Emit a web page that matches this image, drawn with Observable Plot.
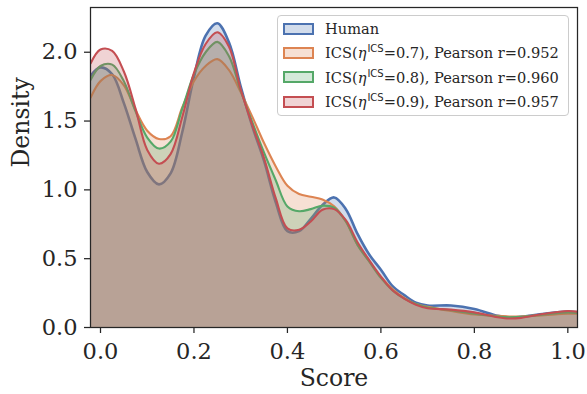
<!DOCTYPE html>
<html><head><meta charset="utf-8">
<script src="https://cdn.jsdelivr.net/npm/d3@7"></script>
<script src="https://cdn.jsdelivr.net/npm/@observablehq/plot@0.6"></script>
<style>
body{margin:0;background:#fff;}
#wrap{position:relative;width:587px;height:394px;font-family:"DejaVu Serif",serif;color:#262626;}
#legend{position:absolute;left:277px;top:15px;width:292px;height:101px;border:1px solid #cccccc;border-radius:4px;background:rgba(255,255,255,0.8);box-sizing:border-box;}
.row{position:absolute;left:0;height:20px;display:flex;align-items:center;font-size:14.6px;white-space:nowrap;}
.patch{width:27px;height:8px;margin-left:5px;margin-right:11px;border-width:2px;border-style:solid;}
sup{font-family:"DejaVu Sans",sans-serif;font-size:10px;vertical-align:0;position:relative;top:-6px;margin-left:1px;}
.eta{font-style:italic;}
</style></head><body><div id="wrap"></div>
<script>
const xs     = [-0.021, 0, 0.025, 0.05, 0.075, 0.1, 0.125, 0.15, 0.175, 0.2, 0.225, 0.25, 0.275, 0.3, 0.325, 0.35, 0.375, 0.4, 0.425, 0.45, 0.475, 0.5, 0.525, 0.55, 0.575, 0.6, 0.625, 0.65, 0.675, 0.7, 0.75, 0.8, 0.85, 0.875, 0.9, 0.95, 1.0, 1.021];
const human  = [1.83, 1.89, 1.84, 1.63, 1.37, 1.13, 1.04, 1.12, 1.42, 1.82, 2.12, 2.21, 2.07, 1.75, 1.46, 1.21, 0.91, 0.70, 0.70, 0.79, 0.89, 0.945, 0.86, 0.68, 0.53, 0.42, 0.30, 0.235, 0.18, 0.16, 0.16, 0.135, 0.085, 0.073, 0.078, 0.10, 0.115, 0.11];
const ics07  = [1.67, 1.79, 1.835, 1.76, 1.58, 1.43, 1.37, 1.39, 1.60, 1.79, 1.90, 1.95, 1.87, 1.71, 1.53, 1.34, 1.17, 1.03, 0.97, 0.95, 0.93, 0.88, 0.77, 0.60, 0.48, 0.37, 0.28, 0.215, 0.17, 0.15, 0.12, 0.095, 0.085, 0.08, 0.08, 0.09, 0.10, 0.10];
const ics08  = [1.80, 1.90, 1.91, 1.79, 1.57, 1.38, 1.30, 1.35, 1.59, 1.84, 2.00, 2.075, 1.97, 1.72, 1.49, 1.27, 1.07, 0.88, 0.845, 0.86, 0.885, 0.87, 0.77, 0.60, 0.48, 0.36, 0.27, 0.21, 0.17, 0.145, 0.125, 0.10, 0.08, 0.075, 0.078, 0.095, 0.11, 0.105];
const ics09  = [1.92, 2.02, 2.01, 1.86, 1.59, 1.29, 1.19, 1.26, 1.53, 1.85, 2.06, 2.145, 2.04, 1.73, 1.47, 1.23, 0.94, 0.72, 0.71, 0.77, 0.855, 0.86, 0.78, 0.62, 0.49, 0.37, 0.27, 0.21, 0.165, 0.14, 0.13, 0.11, 0.075, 0.065, 0.07, 0.10, 0.12, 0.115];
const seriesNames = ["Human", "ICS 0.7", "ICS 0.8", "ICS 0.9"];
const etas = [null, "0.7", "0.8", "0.9"];
const pearson = [null, "0.952", "0.960", "0.957"];
const colors = ["#4C72B0", "#DD8452", "#55A868", "#C44E52"];
const xTicks = [0, 0.2, 0.4, 0.6, 0.8, 1.0];
const yTicks = [0, 0.5, 1.0, 1.5, 2.0];

const allSeries = [human, ics07, ics08, ics09];
const rows = [];
allSeries.forEach((s, i) => xs.forEach((x, j) => rows.push({series: seriesNames[i], x, y: s[j]})));

const marks = [];
seriesNames.forEach((n, i) => {
  const d = rows.filter(r => r.series === n);
  marks.push(Plot.areaY(d, {x: "x", y: "y", fill: colors[i], fillOpacity: 0.25, curve: "catmull-rom", clip: true}));
  marks.push(Plot.lineY(d, {x: "x", y: "y", stroke: colors[i], strokeWidth: i === 0 ? 2.6 : 2.1, curve: "catmull-rom", clip: true}));
});

const chart = Plot.plot({
  width: 587, height: 394,
  marginLeft: 90, marginRight: 10, marginTop: 7, marginBottom: 67,
  style: {fontFamily: "DejaVu Serif", fontSize: "22px", color: "#262626", background: "#fff", overflow: "visible"},
  x: {domain: [-0.0214, 1.0207]},
  y: {domain: [0, 2.325]},
  marks: [
    ...marks,
    Plot.frame({stroke: "#262626", strokeWidth: 1.25}),
    Plot.axisX({ticks: xTicks, tickFormat: d3.format(".1f"), tickSize: 6, tickPadding: 10, label: null, fontSize: 22.5, strokeWidth: 1.25}),
    Plot.axisY({ticks: yTicks, tickFormat: d3.format(".1f"), tickSize: 6, tickPadding: 7, label: null, fontSize: 22.5, strokeWidth: 1.25}),
    Plot.text(["Score"], {text: d => d, frameAnchor: "bottom", dy: 58, fontSize: 23.5, fill: "#262626"}),
    Plot.text(["Density"], {text: d => d, frameAnchor: "left", dx: -69, rotate: -90, fontSize: 23.5, fill: "#262626"})
  ]
});
const wrap = document.getElementById("wrap");
wrap.appendChild(chart);

const legend = document.createElement("div");
legend.id = "legend";
seriesNames.forEach((n, i) => {
  const row = document.createElement("div");
  row.className = "row";
  row.style.top = (2.5 + i * 24.4) + "px";
  const patch = document.createElement("div");
  patch.className = "patch";
  patch.style.borderColor = colors[i];
  const c = d3.color(colors[i]); c.opacity = 0.25;
  patch.style.background = c.formatRgb();
  row.appendChild(patch);
  const label = document.createElement("span");
  if (i === 0) label.textContent = n;
  else label.innerHTML = `ICS(<span class="eta">η</span><sup>ICS</sup>=${etas[i]}), Pearson r=${pearson[i]}`;
  row.appendChild(label);
  legend.appendChild(row);
});
wrap.appendChild(legend);
</script></body></html>
